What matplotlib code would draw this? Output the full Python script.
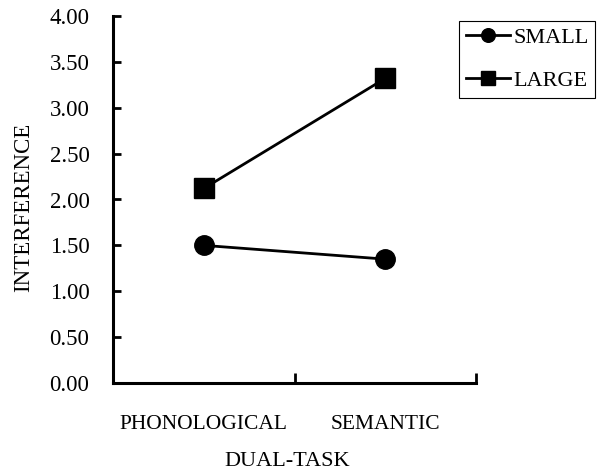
import matplotlib
matplotlib.use("Agg")
import matplotlib.pyplot as plt

plt.rcParams["font.family"] = ["Liberation Serif", "DejaVu Serif"]

tasks = ["PHONOLOGICAL", "SEMANTIC"]
small = [1.50, 1.35]
large = [2.12, 3.32]
yticks = [0.0, 0.5, 1.0, 1.5, 2.0, 2.5, 3.0, 3.5, 4.0]

fig = plt.figure(figsize=(6.05, 4.72), dpi=100)
ax = fig.add_axes([113 / 605, 89 / 472, 363 / 605, 367 / 472])

xpos = [0.5, 1.5]
ax.plot(xpos, small, color="black", lw=2, marker="o", ms=14, label="SMALL")
ax.plot(xpos, large, color="black", lw=2, marker="s", ms=14.5, label="LARGE")

ax.set_xlim(0, 2)
ax.set_ylim(0, 4)
ax.set_yticks(yticks)
ax.set_yticklabels(["%.2f" % v for v in yticks], fontsize=16.5)
ax.tick_params(axis="y", direction="in", length=6, width=2, pad=17)

ax.set_xticks(xpos)
ax.set_xticklabels(tasks, fontsize=15.5)
ax.tick_params(axis="x", which="major", length=0, pad=23)
ax.set_xticks([1, 2], minor=True)
ax.tick_params(axis="x", which="minor", direction="in", length=7, width=2)

for s in ["top", "right"]:
    ax.spines[s].set_visible(False)
for s in ["left", "bottom"]:
    ax.spines[s].set_linewidth(2.2)

fig.text(24 / 605, 1 - 207 / 472, "INTERFERENCE", fontsize=16.5,
         rotation=90, ha="center", va="center")
fig.text(287 / 605, 1 - 461 / 472, "DUAL-TASK", fontsize=16,
         ha="center", va="center")

leg = fig.legend(loc="upper left", bbox_to_anchor=(459 / 605, 1 - 21 / 472),
                 fontsize=16, markerscale=0.7, handlelength=2.0,
                 handletextpad=0.15, borderpad=0.3, borderaxespad=0,
                 labelspacing=1.0, fancybox=False, framealpha=1,
                 edgecolor="black")
leg.get_frame().set_linewidth(0.8)

fig.savefig("out.png", dpi=100)
